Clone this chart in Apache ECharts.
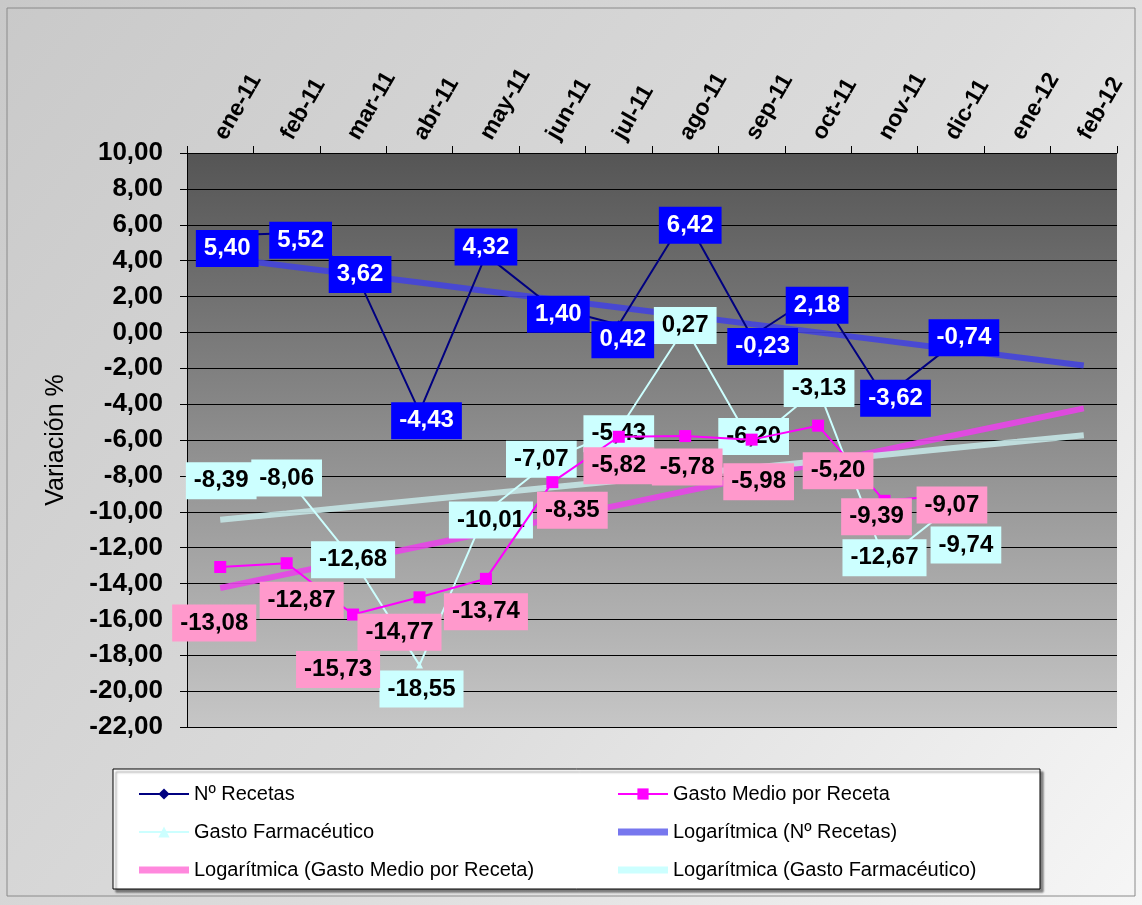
<!DOCTYPE html>
<html>
<head>
<meta charset="utf-8">
<script src="https://cdn.jsdelivr.net/npm/echarts@6/dist/echarts.min.js"></script>
<style>
html,body{margin:0;padding:0;background:#fff;}
#c{width:1142px;height:905px;}
</style>
</head>
<body>
<div id="c"></div>
<script>
const categories = ['ene-11','feb-11','mar-11','abr-11','may-11','jun-11','jul-11','ago-11','sep-11','oct-11','nov-11','dic-11','ene-12','feb-12'];
const recetas = [5.40, 5.52, 3.62, -4.43, 4.32, 1.40, 0.42, 6.42, -0.23, 2.18, -3.62, -0.74];
const gastoMedio = [-13.08, -12.87, -15.73, -14.77, -13.74, -8.35, -5.82, -5.78, -5.98, -5.20, -9.39, -9.07];
const gastoFarma = [-8.39, -8.06, -12.68, -18.55, -10.01, -7.07, -5.43, 0.27, -6.20, -3.13, -12.67, -9.74];
// trend lines
const logRecetas = [4.17, 3.70, 3.24, 2.78, 2.31, 1.85, 1.39, 0.93, 0.46, 0.00, -0.46, -0.93, -1.39, -1.85];
const logGastoMedio = [-14.25, -13.48, -12.71, -11.94, -11.17, -10.40, -9.63, -8.86, -8.09, -7.32, -6.55, -5.78, -5.01, -4.24];
const logGastoFarma = [-10.45, -10.09, -9.72, -9.36, -9.00, -8.64, -8.27, -7.91, -7.55, -7.19, -6.82, -6.46, -6.10, -5.73];
const yMin = -22, yMax = 10, yStep = 2;

// label placement (pixel offsets from each point)
const offRecetas = [[7,13],[14,7],[7,7],[7,9],[0,-8],[6,7],[4,15],[5,8],[11,10],[-1,12],[11,1],[13,-8]];
const offGastoMedio = [[-6,56],[15,37],[-15,55],[-20,35],[0,33],[20,28],[0,29],[2,31],[7,42],[20,45],[-8,16],[1,10]];
const offGastoFarma = [[1,-2],[0,1],[0,0],[2,24],[5,8],[-11,0],[0,4],[0,-2],[2,-7],[1,0],[0,-2],[15,38]];

const fmt = v => Number(v).toFixed(2).replace('.', ',');
const FONT = '"Liberation Sans", Arial, sans-serif';
const BAR = 'path://M0,0L50,0L50,7L0,7Z';

function withLabels(vals, offs, bg, color) {
  return vals.map((v, i) => ({
    value: v,
    label: {
      show: true, position: 'inside', offset: offs[i],
      formatter: p => fmt(p.value),
      backgroundColor: bg, color: color,
      fontFamily: FONT, fontWeight: 'bold', fontSize: 24,
      padding: [7, 8, 6, 8]
    }
  }));
}

const chart = echarts.init(document.getElementById('c'), null, {renderer: 'canvas'});
chart.setOption({
  animation: false,
  backgroundColor: {
    type: 'linear', x: 0, y: 0, x2: 1, y2: 1,
    colorStops: [{offset: 0, color: '#c9c9c9'}, {offset: 0.55, color: '#dcdcdc'}, {offset: 1, color: '#f6f6f6'}]
  },
  graphic: [
    {type: 'rect', shape: {x: 7, y: 8, width: 1128, height: 888}, style: {fill: 'none', stroke: '#8a8a8a', lineWidth: 1}, z: -10},
    {type: 'rect', shape: {x: 113, y: 769, width: 927, height: 120},
     style: {fill: '#ffffff', stroke: '#000', lineWidth: 1, shadowColor: 'rgba(0,0,0,0.45)', shadowOffsetX: 3, shadowOffsetY: 3, shadowBlur: 2}, z: -1}
  ],
  grid: {
    left: 187, right: 25, top: 153, bottom: 178,
    show: true, borderWidth: 0,
    backgroundColor: {
      type: 'linear', x: 0, y: 0, x2: 0, y2: 1,
      colorStops: [{offset: 0, color: '#555555'}, {offset: 1, color: '#c6c6c6'}]
    }
  },
  legend: [
    {
      orient: 'vertical', left: 133, top: 779, itemGap: 18, itemWidth: 50, itemHeight: 14,
      textStyle: {fontFamily: FONT, fontSize: 20, color: '#000'},
      data: ['Nº Recetas', 'Gasto Farmacéutico', {name: 'Logarítmica (Gasto Medio por Receta)', icon: BAR}]
    },
    {
      orient: 'vertical', left: 612, top: 779, itemGap: 18, itemWidth: 50, itemHeight: 14,
      textStyle: {fontFamily: FONT, fontSize: 20, color: '#000'},
      data: ['Gasto Medio por Receta', {name: 'Logarítmica (Nº Recetas)', icon: BAR}, {name: 'Logarítmica (Gasto Farmacéutico)', icon: BAR}]
    }
  ],
  xAxis: {
    type: 'category', position: 'top', data: categories, boundaryGap: true,
    axisLine: {show: true, onZero: false, lineStyle: {color: '#000', width: 1}},
    axisTick: {show: true, length: 7, inside: false, lineStyle: {color: '#000'}},
    axisLabel: {rotate: -60, margin: 15, fontFamily: FONT, fontWeight: 'bold', fontSize: 23, color: '#000', interval: 0},
    splitLine: {show: false}
  },
  yAxis: {
    type: 'value', min: yMin, max: yMax, interval: yStep,
    name: 'Variación %', nameLocation: 'middle', nameGap: 118, nameRotate: 90,
    nameTextStyle: {fontFamily: FONT, fontSize: 25, color: '#000'},
    axisLine: {show: true, lineStyle: {color: '#000', width: 1}},
    axisTick: {show: true, length: 7, lineStyle: {color: '#000'}},
    axisLabel: {formatter: v => fmt(v), fontFamily: FONT, fontWeight: 'bold', fontSize: 26, color: '#000', margin: 24},
    splitLine: {show: true, lineStyle: {color: '#000', width: 1}}
  },
  series: [
    {
      name: 'Logarítmica (Nº Recetas)', type: 'line', data: logRecetas, symbol: 'none', z: 2,
      lineStyle: {color: '#4444dd', width: 6, opacity: 0.9}, itemStyle: {color: '#7777ee'}
    },
    {
      name: 'Logarítmica (Gasto Medio por Receta)', type: 'line', data: logGastoMedio, symbol: 'none', z: 2,
      lineStyle: {color: '#e844e8', width: 6, opacity: 0.9}, itemStyle: {color: '#ff88dd'}
    },
    {
      name: 'Logarítmica (Gasto Farmacéutico)', type: 'line', data: logGastoFarma, symbol: 'none', z: 2,
      lineStyle: {color: '#c4e4e4', width: 6, opacity: 0.9}, itemStyle: {color: '#ccffff'}
    },
    {
      name: 'Gasto Farmacéutico', type: 'line', z: 3,
      data: withLabels(gastoFarma, offGastoFarma, '#ccffff', '#000'),
      symbol: 'triangle', symbolSize: 7,
      lineStyle: {color: '#ccffff', width: 2}, itemStyle: {color: '#ccffff'}
    },
    {
      name: 'Gasto Medio por Receta', type: 'line', z: 4,
      data: withLabels(gastoMedio, offGastoMedio, '#ff99cc', '#000'),
      symbol: 'rect', symbolSize: 12,
      lineStyle: {color: '#ff00ff', width: 2}, itemStyle: {color: '#ff00ff'}
    },
    {
      name: 'Nº Recetas', type: 'line', z: 5,
      data: withLabels(recetas, offRecetas, '#0000ff', '#ffffff'),
      symbol: 'diamond', symbolSize: 9,
      lineStyle: {color: '#000080', width: 2}, itemStyle: {color: '#000080'}
    }
  ]
});
</script>
</body>
</html>
